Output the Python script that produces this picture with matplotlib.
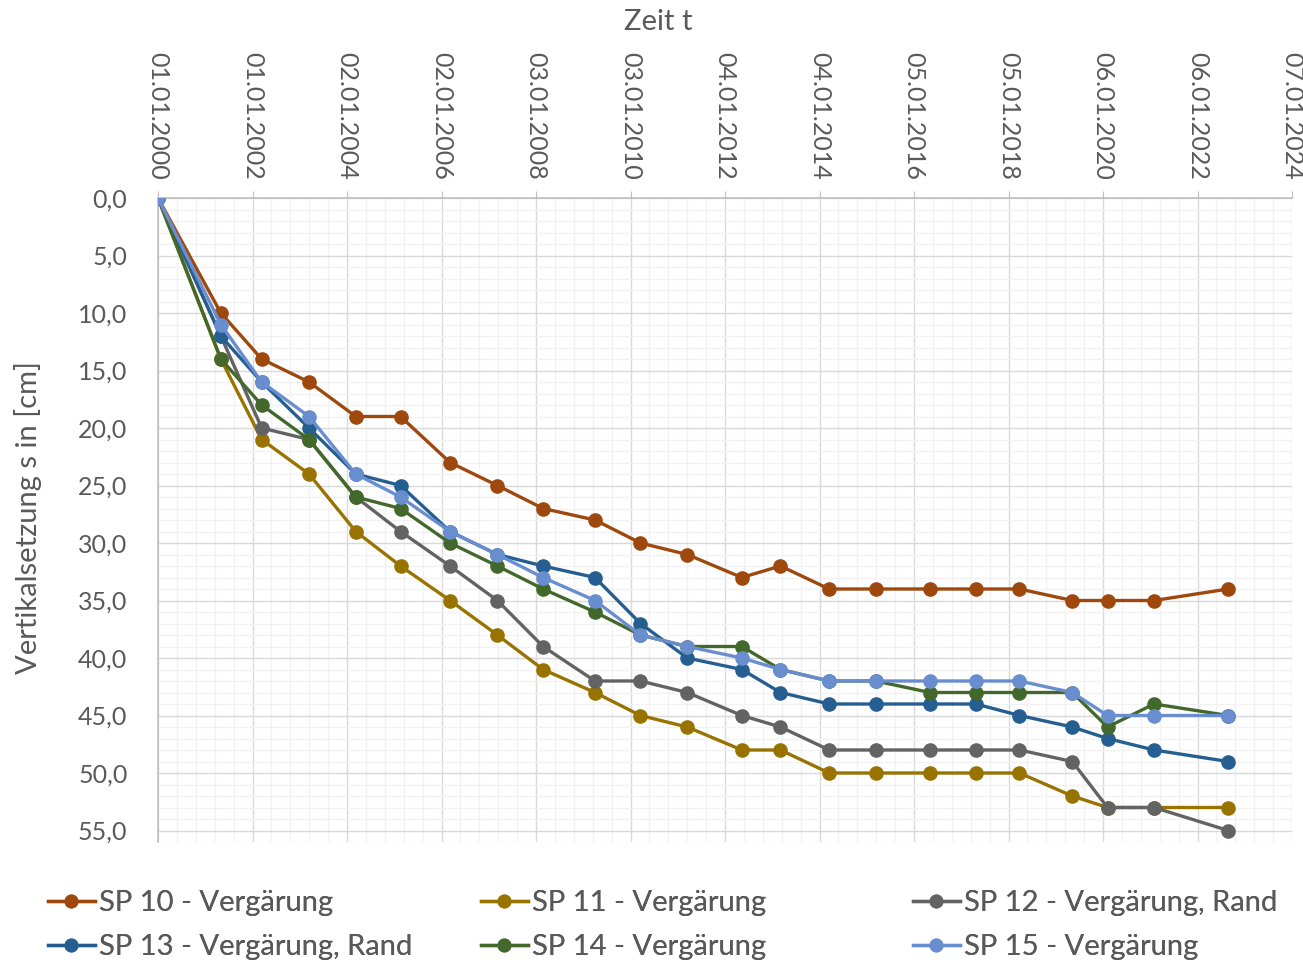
import datetime as dt
import numpy as np
import matplotlib
matplotlib.use("Agg")
import matplotlib.pyplot as plt
import matplotlib.dates as mdates
from matplotlib.ticker import FixedLocator, MultipleLocator, FuncFormatter

plt.rcParams['font.family'] = ['Lato', 'DejaVu Sans']

datum = ['2000-01-01', '2001-05-01', '2002-03-13', '2003-03-14', '2004-03-10', '2005-02-19',
         '2006-03-09', '2007-03-10', '2008-02-27', '2009-04-03', '2010-03-21', '2011-03-18',
         '2012-05-13', '2013-03-08', '2014-03-20', '2015-03-15', '2016-05-07', '2017-04-28',
         '2018-03-31', '2019-05-13', '2020-02-10', '2021-02-04', '2022-08-31']

sp10 = [0, 10, 14, 16, 19, 19, 23, 25, 27, 28, 30, 31, 33, 32, 34, 34, 34, 34, 34, 35, 35, 35, 34]
sp11 = [0, 14, 21, 24, 29, 32, 35, 38, 41, 43, 45, 46, 48, 48, 50, 50, 50, 50, 50, 52, 53, 53, 53]
sp12 = [0, 12, 20, 21, 26, 29, 32, 35, 39, 42, 42, 43, 45, 46, 48, 48, 48, 48, 48, 49, 53, 53, 55]
sp13 = [0, 12, 16, 20, 24, 25, 29, 31, 32, 33, 37, 40, 41, 43, 44, 44, 44, 44, 45, 46, 47, 48, 49]
sp14 = [0, 14, 18, 21, 26, 27, 30, 32, 34, 36, 38, 39, 39, 41, 42, 42, 43, 43, 43, 43, 46, 44, 45]
sp15 = [0, 11, 16, 19, 24, 26, 29, 31, 33, 35, 38, 39, 40, 41, 42, 42, 42, 42, 42, 43, 45, 45, 45]

namen = ['SP 10 - Vergärung', 'SP 11 - Vergärung', 'SP 12 - Vergärung, Rand',
         'SP 13 - Vergärung, Rand', 'SP 14 - Vergärung', 'SP 15 - Vergärung']
farben = ['#9E480E', '#997300', '#636363', '#255E91', '#43682B', '#698ED0']

x = [dt.datetime.strptime(d, '%Y-%m-%d') for d in datum]
grau = '#595959'
W, H = 1303, 968

fig = plt.figure(figsize=(W / 100, H / 100), dpi=100)
ax = fig.add_axes([158 / W, 1 - 842 / H, (1292 - 158) / W, (842 - 198) / H])

linien = []
for werte, name, farbe in zip([sp10, sp11, sp12, sp13, sp14, sp15], namen, farben):
    l, = ax.plot(x, werte, color=farbe, lw=2.4, marker='o', ms=9.5, label=name, zorder=3)
    linien.append(l)

start = mdates.date2num(dt.datetime(2000, 1, 1))
ax.set_xlim(start, start + 12 * 731)
ax.xaxis.set_major_locator(FixedLocator([start + 731 * i for i in range(13)]))
ax.xaxis.set_minor_locator(FixedLocator([start + 731 / 5 * i for i in range(61)]))
ax.xaxis.set_major_formatter(mdates.DateFormatter('%d.%m.%Y'))
ax.xaxis.tick_top()

ax.set_ylim(56, 0)
ax.yaxis.set_major_locator(FixedLocator(np.arange(0, 56, 5)))
ax.yaxis.set_minor_locator(MultipleLocator(1))
ax.yaxis.set_major_formatter(FuncFormatter(lambda v, p: ('%.1f' % v).replace('.', ',')))

ax.grid(which='major', color='#D9D9D9', lw=1.0, zorder=0)
ax.grid(which='minor', color='#F2F2F2', lw=1.0, zorder=0)
ax.set_axisbelow(True)

for s in ['right', 'bottom']:
    ax.spines[s].set_visible(False)
for s in ['left', 'top']:
    ax.spines[s].set_color('#BFBFBF')
    ax.spines[s].set_linewidth(1.2)

ax.tick_params(axis='x', which='major', labelrotation=270, labelsize=18, labelcolor=grau,
               length=5, color='#BFBFBF', pad=8)
ax.tick_params(axis='x', which='minor', length=0)
ax.tick_params(axis='y', which='both', length=0, labelsize=18, labelcolor=grau, pad=22)

# Achsentitel
fig.text(658 / W, 1 - 22 / H, 'Zeit t', fontsize=21, color=grau, ha='center', va='center')
fig.text(28 / W, 1 - 518 / H, 'Vertikalsetzung s in [cm]', fontsize=21, color=grau,
         ha='center', va='center', rotation=90)

# Legende: drei Spalten, zeilenweise gefüllt
spalten_x = [48, 481, 913]
for k, sx in enumerate(spalten_x):
    idx = [k, k + 3]
    leg = fig.legend([linien[i] for i in idx], [namen[i] for i in idx],
                     loc='upper left', bbox_to_anchor=(sx / W, 1 - 890 / H),
                     frameon=False, fontsize=21, labelcolor=grau,
                     handlelength=1.6, handletextpad=0.15, labelspacing=0.62,
                     borderpad=0, borderaxespad=0, markerscale=0.95)
    fig.add_artist(leg)

fig.savefig('out.png', dpi=100)
